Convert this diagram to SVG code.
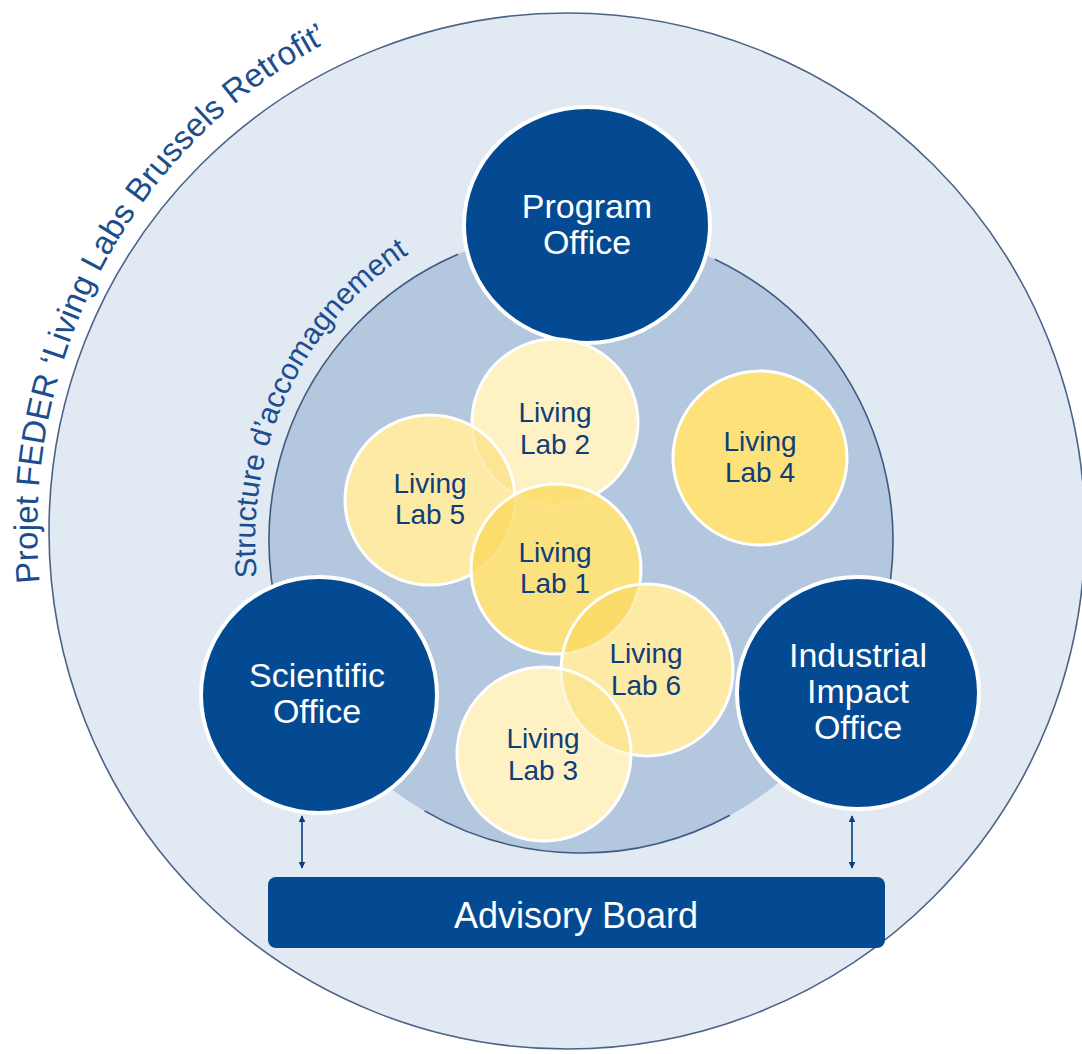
<svg xmlns="http://www.w3.org/2000/svg" xmlns:xlink="http://www.w3.org/1999/xlink" width="1082" height="1054" viewBox="0 0 1082 1054">
<style>
.office{fill:#044a93;stroke:#ffffff;stroke-width:4}
.officeText{font-family:"Liberation Sans",Arial,sans-serif;font-size:34px;fill:#ffffff;text-anchor:middle}
.lab{fill:#fbd650;stroke:#ffffff;stroke-width:3}
.labText{font-family:"Liberation Sans",Arial,sans-serif;font-size:28px;fill:#0f3d7a;text-anchor:middle}
.ring{fill:none;stroke:#3f5a80;stroke-width:1.6}
.curveText{font-family:"Liberation Sans",Arial,sans-serif;fill:#1b4e8e}
.conn{stroke:#0d3f7e;stroke-width:1.6;fill:none;marker-start:url(#ah);marker-end:url(#ah)}
</style>
<defs>
<marker id="ah" viewBox="0 0 10 10" refX="9" refY="5" markerWidth="7" markerHeight="7" orient="auto-start-reverse" markerUnits="userSpaceOnUse">
<path d="M0,0 L10,5 L0,10 z" fill="#0d3f7e"/>
</marker>
<path id="outerTextPath" d="M 39.6 582.6 A 530 548 0 0 1 567 -17"/>
<path id="innerTextPath" d="M 257 577 A 326 338 0 0 1 581 203"/>
</defs>
<rect x="0" y="0" width="1082" height="1054" fill="#ffffff"/>

<g id="outer-ring">
<circle cx="567" cy="531" r="518" fill="#e1e9f3" stroke="#4a6387" stroke-width="1.6"/>
<text class="curveText" font-size="33"><textPath xlink:href="#outerTextPath">Projet FEDER ‘Living Labs Brussels Retrofit’</textPath></text>
</g>

<g id="structure">
<circle cx="581" cy="541" r="312" fill="#b3c7df"/>
<path class="ring" d="M 714.8 259.2 A 312 312 0 0 1 851.2 697"/>
<path class="ring" d="M 310.8 697 A 312 312 0 0 1 458.1 254.2"/>
<path class="ring" d="M 729.9 815.2 A 312 312 0 0 1 424.5 810.9"/>
<text class="curveText" font-size="30"><textPath xlink:href="#innerTextPath">Structure d’accomagnement</textPath></text>
</g>

<g id="program-office">
<ellipse class="office" cx="587" cy="225" rx="123" ry="118"/>
<text class="officeText" x="587" y="218">Program</text>
<text class="officeText" x="587" y="254">Office</text>
</g>

<g id="scientific-office">
<circle class="office" cx="319" cy="695" r="118"/>
<text class="officeText" x="317" y="687">Scientific</text>
<text class="officeText" x="317" y="723">Office</text>
</g>

<g id="industrial-impact-office">
<ellipse class="office" cx="858" cy="693" rx="121" ry="116"/>
<text class="officeText" x="858" y="667">Industrial</text>
<text class="officeText" x="858" y="703">Impact</text>
<text class="officeText" x="858" y="739">Office</text>
</g>

<g id="labs-base">
<circle cx="555" cy="422" r="83" fill="#fff9e2"/>
<circle cx="430" cy="500" r="85" fill="#fff9e2"/>
<circle cx="556" cy="569" r="85" fill="#fff9e2"/>
<circle cx="647" cy="670" r="86" fill="#fff9e2"/>
<circle cx="544" cy="754" r="87" fill="#fff9e2"/>
</g>

<g id="living-lab-2">
<circle class="lab" cx="555" cy="422" r="83" fill-opacity="0.2"/>
<text class="labText" x="555" y="422">Living</text>
<text class="labText" x="555" y="454">Lab 2</text>
</g>

<g id="living-lab-5">
<circle class="lab" cx="430" cy="500" r="85" fill-opacity="0.42"/>
<text class="labText" x="430" y="493">Living</text>
<text class="labText" x="430" y="524">Lab 5</text>
</g>

<g id="living-lab-1">
<circle class="lab" cx="556" cy="569" r="85" fill-opacity="0.68"/>
<text class="labText" x="555" y="562">Living</text>
<text class="labText" x="555" y="593">Lab 1</text>
</g>

<g id="living-lab-6">
<circle class="lab" cx="647" cy="670" r="86" fill-opacity="0.42"/>
<text class="labText" x="646" y="663">Living</text>
<text class="labText" x="646" y="695">Lab 6</text>
</g>

<g id="living-lab-3">
<circle class="lab" cx="544" cy="754" r="87" fill-opacity="0.2"/>
<text class="labText" x="543" y="748">Living</text>
<text class="labText" x="543" y="780">Lab 3</text>
</g>

<g id="living-lab-4">
<circle cx="760" cy="458" r="87" fill="#fde17b" stroke="#ffffff" stroke-width="3"/>
<text class="labText" x="760" y="451">Living</text>
<text class="labText" x="760" y="482">Lab 4</text>
</g>

<g id="advisory-board">
<rect x="268" y="877" width="617" height="71" rx="8" fill="#044a93"/>
<text x="576" y="928" font-family="Liberation Sans, Arial, sans-serif" font-size="36" fill="#ffffff" text-anchor="middle">Advisory Board</text>
</g>

<g id="connectors">
<line class="conn" x1="302" y1="816" x2="302" y2="868"/>
<line class="conn" x1="852" y1="816" x2="852" y2="868"/>
</g>
</svg>
